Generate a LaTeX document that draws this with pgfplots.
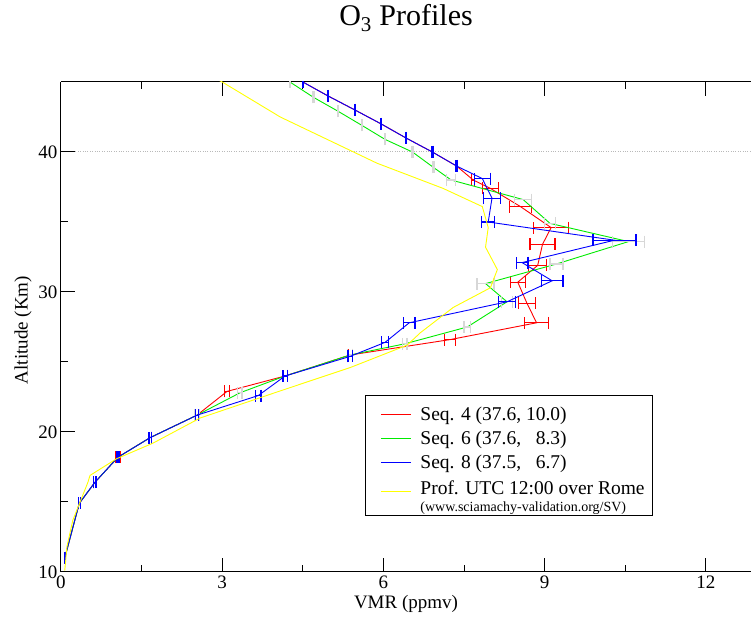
\documentclass[border=0pt]{standalone}
\usepackage{pgfplots}
\pgfplotsset{compat=1.18}
\usepackage{fontspec}
\setmainfont{Liberation Serif}

\definecolor{seqred}{RGB}{255,0,0}
\definecolor{seqgreen}{RGB}{0,235,0}
\definecolor{seqblue}{RGB}{0,0,255}
\definecolor{profyellow}{RGB}{255,255,0}
\definecolor{bargray}{RGB}{215,215,215}

% x = VMR, y = altitude, ex = error in VMR
\pgfplotstableread{
x     y     ex
4.50  45.0  0.01
4.97  44.0  0.01
5.47  43.0  0.01
5.96  42.0  0.01
6.42  41.0  0.01
6.91  40.0  0.01
7.36  39.0  0.01
7.67  38.0  0.03
7.99  37.4  0.15
8.55  36.1  0.20
9.12  34.6  0.33
8.96  33.4  0.23
8.87  31.9  0.17
8.50  30.7  0.14
8.67  29.2  0.16
8.85  27.8  0.22
7.24  26.6  0.10
5.38  25.5  0.04
4.17  24.0  0.04
3.09  22.9  0.05
2.53  21.2  0.03
1.66  19.6  0.02
1.06  18.2  0.04
0.63  16.4  0.02
0.34  14.9  0.02
0.07  11.0  0.01
}\seqfour

\pgfplotstableread{
x     y     ex
4.26  45.0  0.01
4.70  43.9  0.01
5.16  42.9  0.01
5.60  41.9  0.01
6.03  40.9  0.01
6.54  40.0  0.01
6.93  38.9  0.01
7.26  38.0  0.08
8.60  36.6  0.16
9.10  34.9  0.10
10.56 33.6  0.30
9.22  32.0  0.12
7.90  30.6  0.16
8.30  29.3  0.10
7.56  27.5  0.06
6.40  26.3  0.04
5.38  25.5  0.05
4.17  24.0  0.04
3.33  22.8  0.04
2.53  21.2  0.04
1.66  19.6  0.02
1.06  18.2  0.02
0.63  16.4  0.02
0.34  14.9  0.02
0.07  11.0  0.01
}\seqsix

\pgfplotstableread{
x     y     ex
4.50  45.0  0.01
4.97  44.0  0.01
5.47  43.0  0.01
5.96  42.0  0.01
6.42  41.0  0.01
6.91  40.0  0.01
7.36  39.0  0.01
7.84  38.1  0.15
8.02  36.7  0.16
7.95  35.0  0.12
10.30 33.7  0.40
8.58  32.1  0.11
9.14  30.8  0.20
8.30  29.3  0.16
6.48  27.8  0.11
6.03  26.4  0.06
5.38  25.4  0.04
4.17  24.0  0.04
3.67  22.6  0.05
2.53  21.2  0.03
1.66  19.6  0.02
1.06  18.2  0.02
0.63  16.4  0.02
0.34  14.9  0.02
0.07  11.0  0.01
}\seqeight

\pgfplotstableread{
x     y
0.07  10.1
0.11  11.8
0.22  13.7
0.50  16.4
0.54  16.9
1.04  18.1
1.71  19.2
2.59  21.0
4.13  23.0
5.38  24.6
6.44  26.2
6.69  27.1
7.30  28.9
7.99  30.3
8.12  31.6
7.90  33.2
7.95  34.6
7.84  36.1
7.11  37.4
5.88  39.2
4.08  42.5
3.00  45.0
2.70  45.6
}\rome

\begin{document}
\begin{tikzpicture}
\begin{axis}[
    scale only axis,
    width=690pt, height=490pt,
    xmin=0, xmax=12.84,
    ymin=10, ymax=45,
    axis x line=box, axis y line=left,
    x axis line style={-}, y axis line style={-},
    axis line style={black, line width=1pt},
    xtick={0,3,6,9,12}, minor x tick num=1,
    ytick={10,20,30,40}, minor y tick num=1,
    tick align=inside,
    major tick length=14pt, minor tick length=7pt,
    tick style={black, line width=1pt},
    extra y ticks={40}, extra y tick labels={},
    extra y tick style={grid=major, major grid style={dotted, gray!55, line width=1pt}},
    /pgf/number format/assume math mode=true,
    tick label style={font=\fontsize{19}{22}\selectfont},
    label style={font=\fontsize{19}{22}\selectfont},
    xlabel={VMR (ppmv)},
    ylabel={Altitude (Km)},
    ylabel style={xshift=-3pt},
    title={O\textsubscript{3} Profiles},
    title style={font=\fontsize{30}{34}\selectfont, at={(axis description cs:0.5,1)}, anchor=base, yshift=50pt},
    legend style={at={(0.4406,0.361)}, anchor=north west, draw=black, line width=0.8pt,
        font=\fontsize{19.5}{22}\selectfont, cells={anchor=west},
        row sep=5pt, inner ysep=9pt, inner xsep=15pt,
        /tikz/every odd column/.append style={column sep=7pt}},
    legend image code/.code={
        \draw[#1, line width=1pt] (0pt,0pt) -- (30pt,0pt);},
    legend cell align=left,
]
\addplot[seqred, line width=0.9pt, mark=none,
    error bars/.cd, x dir=both, x explicit,
    error bar style={seqred, line width=1.3pt},
    error mark options={seqred, line width=1.3pt, mark size=6pt, rotate=90}]
    table[x=x, y=y, x error=ex] {\seqfour};
\addlegendentry{Seq. 4 (37.6, 10.0)}
\addplot[seqgreen, line width=0.9pt, mark=none,
    error bars/.cd, x dir=both, x explicit,
    error bar style={bargray, line width=1.3pt},
    error mark options={bargray, line width=1.3pt, mark size=6pt, rotate=90}]
    table[x=x, y=y, x error=ex] {\seqsix};
\addlegendentry{Seq. 6 (37.6, \hphantom{1}8.3)}
\addplot[seqblue, line width=0.9pt, mark=none,
    error bars/.cd, x dir=both, x explicit,
    error bar style={seqblue, line width=1.3pt},
    error mark options={seqblue, line width=1.3pt, mark size=6pt, rotate=90}]
    table[x=x, y=y, x error=ex] {\seqeight};
\addlegendentry{Seq. 8 (37.5, \hphantom{1}6.7)}
\addplot[profyellow, line width=0.9pt, mark=none] table[x=x, y=y] {\rome};
\addlegendentry{\begin{tabular}{@{}l@{}}Prof. UTC 12:00 over Rome\\[-5pt]{\fontsize{14}{16}\selectfont (www.sciamachy-validation.org/SV)}\end{tabular}\hspace*{-9pt}}
\coordinate (sw) at (rel axis cs:0,0);
\coordinate (ne) at (rel axis cs:1,1);
\end{axis}
\pgfresetboundingbox
\path[use as bounding box] ([xshift=-61pt,yshift=-53pt]sw) rectangle ([yshift=82pt]ne);
\end{tikzpicture}
\end{document}
